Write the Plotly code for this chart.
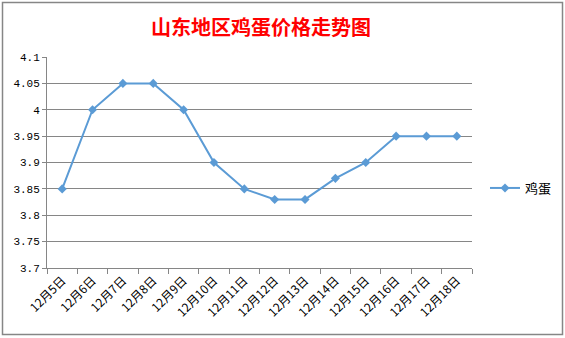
import plotly.graph_objects as go

categories = ["12月5日", "12月6日", "12月7日", "12月8日", "12月9日", "12月10日", "12月11日",
              "12月12日", "12月13日", "12月14日", "12月15日", "12月16日", "12月17日", "12月18日"]
prices = [3.85, 4.00, 4.05, 4.05, 4.00, 3.90, 3.85, 3.83, 3.83, 3.87, 3.90, 3.95, 3.95, 3.95]
series_name = "鸡蛋"
title_text = "山东地区鸡蛋价格走势图"

W, H = 565, 338
L, R, T, B = 47, 93, 57, 70
pw, ph = W - L - R, H - T - B

def px_to_paper_x(p):
    return (p - L) / pw

def px_to_paper_y(p):
    return (H - B - p) / ph

fig = go.Figure()
fig.add_trace(go.Scatter(
    x=categories, y=prices, name=series_name, mode="lines+markers",
    line=dict(color="#5B9BD5", width=2),
    marker=dict(symbol="diamond", size=7, color="#5B9BD5"),
))

fig.update_layout(
    width=W, height=H,
    margin=dict(l=L, r=R, t=T, b=B, autoexpand=False),
    paper_bgcolor="white", plot_bgcolor="white",
    title=dict(text=title_text, x=px_to_paper_x(261), xref="paper", xanchor="center",
               y=1 - 28 / H, yanchor="middle",
               font=dict(family="Noto Sans CJK SC", size=20, color="#FF0000", weight="bold")),
    showlegend=True,
    legend=dict(x=485 / W, y=1 - 188 / H, xref="container", yref="container",
                xanchor="left", yanchor="middle",
                font=dict(family="Noto Sans CJK SC", size=13, color="#000000"),
                bgcolor="rgba(0,0,0,0)", itemwidth=30),
    xaxis=dict(type="category", tickangle=-45, tickson="boundaries", automargin=False,
               range=[-0.5, len(categories) - 0.5],
               ticks="outside", ticklen=5, tickcolor="#868686",
               showline=True, linecolor="#868686", linewidth=1,
               showgrid=False, zeroline=False,
               tickfont=dict(family="Noto Sans CJK SC", size=12, color="#000000")),
    yaxis=dict(range=[3.7, 4.1], dtick=0.05, tick0=3.7, tickformat="~g", automargin=False,
               ticks="outside", ticklen=4, tickcolor="#868686",
               showline=True, linecolor="#868686", linewidth=1,
               showgrid=True, gridcolor="#868686", gridwidth=1, zeroline=False,
               tickfont=dict(family="Liberation Mono", size=11, color="#000000")),
    shapes=[dict(type="rect", xref="paper", yref="paper",
                 x0=px_to_paper_x(2.5), x1=px_to_paper_x(562.5),
                 y0=px_to_paper_y(334.5), y1=px_to_paper_y(2.5),
                 line=dict(color="#868686", width=1.5), fillcolor="rgba(0,0,0,0)", layer="below")],
)

fig.write_html("out.html")
